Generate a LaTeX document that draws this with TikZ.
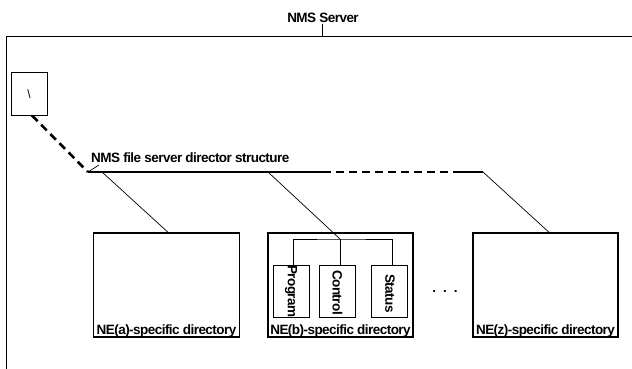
\documentclass[tikz,border=0pt]{standalone}
\usepackage{fontspec}
\setmainfont{Liberation Sans}
\newfontfamily\labfont{Liberation Sans Bold}[LetterSpace=-4]
\begin{document}
\begin{tikzpicture}[x=1pt,y=-1pt,
  lab/.style={font=\labfont\fontsize{13.5}{15}\selectfont, inner sep=1pt},
  dirbox/.style={draw, line width=1.4pt, minimum width=146pt, minimum height=104pt, inner sep=0pt},
  subbox/.style={draw, line width=0.8pt, minimum width=36pt, minimum height=52pt, inner sep=0pt},
  conn/.style={line width=0.7pt},
  bar/.style={line width=2pt},
  dbar/.style={line width=2.6pt, dash pattern=on 8pt off 5pt}]
\useasboundingbox (0,0) rectangle (632,369);
% outer server frame
\draw[line width=1pt] (632,37) -- (6,37) -- (6,369);
\node[lab] (srv) at (323,18) {NMS Server};
\coordinate (srvtick) at (322,37);
\draw[conn] (srv.south -| srvtick) -- (srvtick);
% root
\node[draw, line width=1pt, minimum width=36pt, minimum height=42pt, inner sep=0pt, font=\fontsize{12}{12}\selectfont] (root) at (29,94) {\textbackslash};
\coordinate (j0) at (88,172);
\coordinate (j1) at (323,172);
\coordinate (j2) at (458,172);
\coordinate (j3) at (483,172);
\coordinate (ja) at (102,172);
\coordinate (jb) at (268,172);
\draw[dbar] ([xshift=3pt]root.south) -- (j0);
\draw[bar] (j0) -- (j1);
\draw[dbar] (j1) -- (j2);
\draw[bar] (j2) -- (j3);
\node[lab, anchor=south west] (struct) at (90,164) {NMS file server director structure};
\draw[conn] (j0) -- ([xshift=9pt,yshift=-1pt]struct.south west);
% directory boxes
\node[dirbox] (a) at (166.5,285) {};
\node[dirbox, minimum width=145pt] (b) at (340.5,285) {};
\node[dirbox, minimum width=145pt] (z) at (545.5,285) {};
\node[lab, anchor=south, inner sep=0.5pt] (la) at (a.south) {NE(a)-specific directory};
\node[lab, anchor=south, inner sep=0.5pt] (lb) at (b.south) {NE(b)-specific directory};
\node[lab, anchor=south, inner sep=0.5pt] (lz) at (z.south) {NE(z)-specific directory};
% sub boxes
\node[subbox] (prog) at (291,291) {};
\node[subbox] (ctrl) at (337.5,291) {};
\node[subbox] (stat) at (389.5,291) {};
\node[lab, rotate=-90, anchor=west, inner sep=0pt] (tprog) at (291,265) {Program};
\node[lab, rotate=-90, anchor=west, inner sep=0pt] (tctrl) at (337.5,270) {Control};
\node[lab, rotate=-90, anchor=west, inner sep=0pt] (tstat) at (390,274) {Status};
\coordinate (tj) at (340,239);
\draw[conn] ([xshift=2pt]prog.north) |- (tj) -| ([xshift=2.5pt]stat.north);
\draw[conn] (tj) -- ([xshift=2.5pt]ctrl.north);
% connectors
\draw[conn] (ja) -- ([xshift=1.5pt]a.north);
\draw[conn] (jb) -- (tj);
\draw[conn] (j3) -- ([xshift=3.5pt]z.north);
% dots
\node[lab] (dots) at (445,291) {.\hspace{7pt}.\hspace{7pt}.};
\end{tikzpicture}
\end{document}
